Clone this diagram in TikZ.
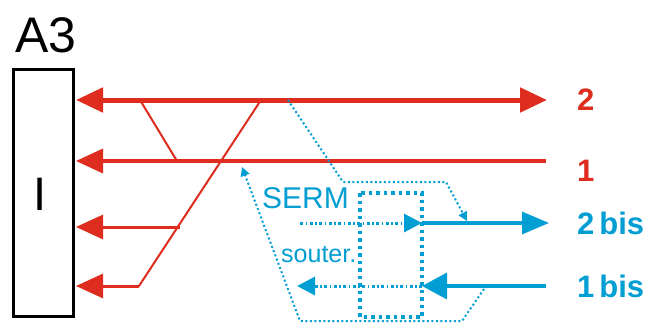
\documentclass[tikz,border=0pt]{standalone}
\usepackage{fontspec}
\setmainfont{Liberation Sans}
\usetikzlibrary{arrows.meta}
\definecolor{rd}{RGB}{222,45,30}
\definecolor{bl}{RGB}{0,158,210}
\tikzset{
  redline/.style={draw=rd,line width=#1},
  thin/.style={draw=rd,line width=2},
  fine/.style={draw=bl,line width=2,dash pattern=on 2pt off 2.5pt},
  dashdot/.style={draw=bl,line width=3,dash pattern=on 3pt off 2.5pt on 1.5pt off 2.5pt},
  dotbox/.style={draw=bl,line width=4,dash pattern=on 3.5pt off 4pt},
  lbl/.style={font=\fontsize{31}{31}\selectfont\bfseries,anchor=west,inner sep=0},
}
\begin{document}
\begin{tikzpicture}[x=1pt,y=-1pt]
\useasboundingbox[fill=white] (0,0) rectangle (651,324);
% box
\node[draw,line width=3,minimum width=60,minimum height=247,inner sep=0] (box) at (43,193) {};
\node[font=\fontsize{50}{50}\selectfont,inner sep=0] (a3) at (46,35) {A3};
\node[font=\fontsize{47}{47}\selectfont,inner sep=0] (roman) at (40,194) {I};
% red coordinates
\coordinate (r2l) at (76,100);
\coordinate (r2r) at (547,100);
\coordinate (r1l) at (76,161);
\coordinate (r1r) at (546,161);
\coordinate (r3l) at (76,227);
\coordinate (r3r) at (180,227);
\coordinate (r4l) at (76,286);
\coordinate (r4r) at (139,286);
\coordinate (da) at (140,100);
\coordinate (db) at (177,161);
\coordinate (dc) at (261,100);
% red lines
\draw[thin,line cap=round] (da) -- (db);
\draw[thin,line cap=round] (dc) -- (r4r);
\draw[redline=5,{Triangle[length=27pt,width=24pt]}-{Triangle[length=27pt,width=24pt]}] (r2l) -- (r2r);
\draw[redline=3.5,{Triangle[length=27pt,width=24pt]}-] (r1l) -- (r1r);
\draw[redline=3,{Triangle[length=27pt,width=24pt]}-] (r3l) -- (r3r);
\draw[redline=3,{Triangle[length=27pt,width=24pt]}-] (r4l) -- (r4r);
% labels
\node[lbl,text=rd] (l2) at (577,100) {2};
\node[lbl,text=rd] (l1) at (577,171) {1};
\node[lbl,text=bl] (l2b) at (577,223) {2\hspace{5pt}bis};
\node[lbl,text=bl] (l1b) at (577,286) {1\hspace{5pt}bis};
% blue dotted box
\coordinate (bx1) at (360,193);
\coordinate (bx2) at (422,317);
\draw[dotbox] (bx1) rectangle (bx2);
% 2bis
\coordinate (b2a) at (300,223);
\coordinate (b2m) at (422,223);
\coordinate (b2r) at (549,223);
\draw[dashdot,-{Triangle[length=18pt,width=18pt]}] (b2a) -- (b2m);
\draw[draw=bl,line width=3.5,-{Triangle[length=27pt,width=22pt]}] (b2m) -- (b2r);
% 1bis
\coordinate (b1a) at (297,286);
\coordinate (b1m) at (422,286);
\coordinate (b1r) at (546,286);
\draw[draw=bl,line width=3.5,-{Triangle[length=25pt,width=26pt]}] (b1r) -- (b1m);
\draw[dashdot,-{Triangle[length=18pt,width=18pt]}] (b1m) -- (b1a);
% thin dotted paths
\coordinate (f1) at (288,100);
\coordinate (f2) at (343,182);
\coordinate (f3) at (446,182);
\coordinate (f4) at (467,221);
\draw[fine,-{Triangle[length=9pt,width=9pt]}] (f1) -- (f2) -- (f3) -- (f4);
\coordinate (g1) at (484,289);
\coordinate (g2) at (462,321);
\coordinate (g3) at (300,321);
\coordinate (g4) at (242,167);
\draw[fine,-{Triangle[length=9pt,width=9pt]}] (g1) -- (g2) -- (g3) -- (g4);
% text
\node[font=\fontsize{30}{30}\selectfont,text=bl,inner sep=0,anchor=west] (serm) at (262,198) {SERM};
\node[font=\fontsize{25}{25}\selectfont,text=bl,inner sep=0,anchor=base west] (sout) at (281,262) {souter.};
\end{tikzpicture}
\end{document}
